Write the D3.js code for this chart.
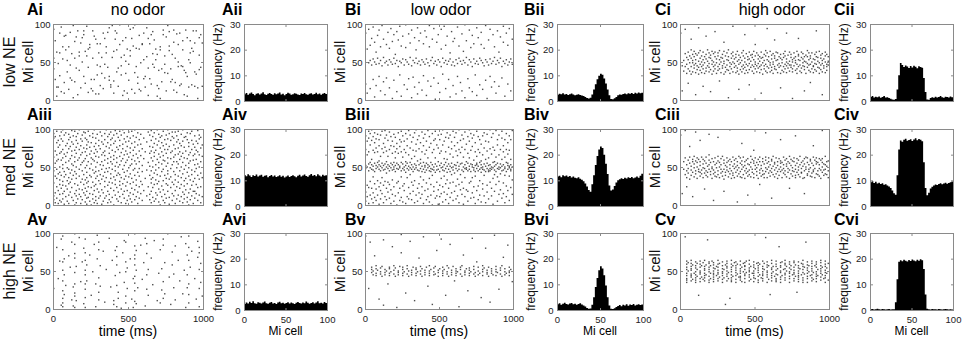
<!DOCTYPE html>
<html lang="en">
<head>
<meta charset="UTF-8">
<title>Mi cell rasters</title>
<style>
  body { margin: 0; background: #fff; }
  svg { display: block; font-family: "Liberation Sans", Arial, sans-serif; }
</style>
</head>
<body>
<script src="https://cdnjs.cloudflare.com/ajax/libs/d3/7.8.2/d3.min.js"></script>
<script>

// rasters: 100 bins of 10 ms, each bin lists the Mi cells (2 digits each) that spiked, "-" = none
const rasterAi = [
  "934155 2778 056317 4817 883262 1196 5470 230984 6685 3752",
  "7014 894629 2661 0398 552477 4283 9107 633958 1675 8250",
  "318691 6422 9758 104367 7369 2715 559112 8427 0880 463374",
  "6208 197444 3556 8815 294781 7062 4389 953126 1720 5698",
  "256409 8091 663788 4218 9973 334556 7806 1259 518235 0967",
  "4726 935865 1481 7195 360999 6844 2230 856714 4912 7374",
  "885328 3117 5795 064281 7428 2186 906147 4379 6753 190560",
  "1539 667002 4124 9286 584736 8312 3598 716590 2441 6027",
  "769213 2355 8710 507344 1988 4521 664478 3907 9236 058231",
  "5317 784962 2068 6491 377518 9134 1602 825940 4386 7518"
].join(" ");

const rasterAiii = [
  "12078845632994 557103389016 8224476609973558 411976026085 336891145027790643 87225904703996 15623184480873992653 670144923718 78255611954064 054981326921",
  "933674135886280247 611789427730 105498236583467134 8006523991 2872156344970057 35851968035076901241 9426590881 47147338629921 66028753301178 2045920769348456",
  "751640965827 046133884913702295 5279093665188643297401 973157248310 39670591487615 82235400713762 14468930600894 5825774299196803 88351164508127734406 219356380270",
  "63094585173278 407428965312 0157832066479134 691638800552 944324715909863165 1277489936 5503822661189044 30680793497514 862257410496633579 104772298854",
  "65370081196092 2751841345987033 76083962942356 428917730550 973164118540267853 035892366921 80144774289961 3466098752184395 712556028338 1990456706773059",
  "841263379649 5228750841881669 97356022810454 144672913065 5883203999077648 266711548933 027943621795 71388624570948 9315653180 4406742752",
  "881961 3570 128346 965624 07683992511477 622985450371349818 50107636905823 81426405279569 16533387720846 992860137940",
  "6704498421569331 387517630089 54259144701182 0665329747782059 863914580373 28925168358009 731845996226874155 0134771094 614885236937 15905371300696",
  "44792763128857 96024074196633 578324490891 3067138654387597 812260054570 11509336782764 68411799568403 2576470862328914 9035715220 43048661289510",
  "7716553882004966 339421690758 85461273409726 590280316518 1867449109537635 722760841548 06399854812370 508713663492 247542035789 64113679"
].join(" ");

const rasterAv = [
  "27 - 81 40 63 0592 082437516278960314 451966 31 -",
  "70 55 1288 0429 173348677385219902 5611 - 94 36 62",
  "0780 155126743392640245 5837 - 71 18 49 85 3303 6697",
  "2241788812 5730 - 76 09 52 - 93 29 64",
  "0611 4477 3158826903 2214 48 01 74 3590 0862174988 5427",
  "- 66 13 4002 247143589910346683 517707 28 - 84 39",
  "61 0493 73264586 1852 - 67 32 90 - 11",
  "47 7808 2553 36849214 6120 - 99 42 06 5875",
  "2846 8312 - 64 37 95 20 51 0286 452871",
  "649633088119 55 76 - 40 13 6889 2752748103 3560 17"
].join(" ");

const rasterBi = [
  "8821 6709 9349 157252 8146 275496 045076 634719 8555 314892",
  "125270 9845 245680 0749 735129 8946 165368 9450 024777 265586",
  "6048 115290 7944 335197 054971 8454 2046 695399 1450 874728",
  "7556 034592 3052 824917 6655 954808 235178 8846 1353 745032",
  "9147 065483 2549 704598 1852 8056 294894 0151 7646 865322",
  "1050 674493 3455 9749 155272 8447 2751 625404 9046 195077",
  "8145 0853 964831 7155 2351 874712 6452 034999 7856 2846",
  "925316 6950 114485 7454 3348 955106 8247 2055 735289 1449",
  "6845 985326 0250 7946 315493 1748 8651 705624 0947 9152",
  "634918 8355 2944 765197 0548 8853 214672 9450 1254 8047"
].join(" ");

const rasterBiii = [
  "914817527305 2684501166 70450297542388 134979563194 60085385224799 37517216904603 82552844106995 064875215287 935032137056 58244786017853",
  "19456492512908 744936559715 035281462669 88471154763198 42572292075071 644817855330 965109457327 552049780290 334668145384 77502493560547",
  "124462528970 488129550074 955316476831 064986512277 70453756971083 255463489104 845019734628 574302945269 114878553687 665123984608",
  "925640154975 304783530761 725018894426 035495476432 498013527199 2246588605 915328744516 604809825537 145196447024 784733560288",
  "435267199350 075584462972 984921536211 354576519004 564813814427 695300479439 185085467324 875409436297 4651307912 754757209201",
  "265268448611 934915557135 044679502499 615338458417 894807567028 335195436014 764722540288 514467109229 165583497440 975030466306",
  "4253781889 084871522595 654512568234 275199477303 8554402069 554614923076 015063448722 735336489611 4749208057 185590456805",
  "625129478499 944409547231 365077165388 104659499224 825202447038 534897551964 254573510790 695632478613 044980534358 914721506628",
  "395475461295 6051034484 174893557126 835244460862 484599533074 125067478922 764935560194 574618517240 9853274463 054886553779",
  "664714509231 4154734920 885109456097 294678531570 635003488639 944425567311 195255478267 724938510691 475386452360 33509814"
].join(" ");

const rasterBv = [
  "96 - 27 88 485255 4550 70 47535744 51 13",
  "464954 5643 9105 485245 50 33 44475553 49 82 514657",
  "4354 02 485045 56 7498 52474455 49 21 465357 5043",
  "89 455148 55 11 47544452 49 67 505646 4353 95",
  "484551 55 30 44505747 52 06 495445 4656 77 514348",
  "53 92 47555044 52 18 464957 5443 85 485145 56",
  "37 44534750 49 03 554652 4357 71 485045 53 24",
  "47544451 49 93 465652 4348 62 504555 47 15 44525749",
  "54 80 484651 5543 09 504753 45 97 56444952 48",
  "26 465451 4357 68 494553 47 84 50554448 52 36"
].join(" ");

const rasterCi = [
  "88 4512 5238 614493 473556 63415322 385849 5544663480 49603752 42576446",
  "5336486107 455940 6251344395 39554765 58443650 4663534118 354957 6042543884 514566 4356374862",
  "55405911 47643452 38506144 5746416390 493554 62445839 4153476525 563650 45604255 3451644876",
  "584337 46625340 5239576603 444935 61554147 3758506397 484354 56364560 42645138 5347593414",
  "405649 62443752 46584165 5535504386 396147 57455336 4863405420 435159 60384656 35534464",
  "5041584773 456237 54484259 36575144 6346405509 493456 41605245 58384765 4453623694 514257",
  "37496446 59435439 47613550 5544584179 405263 62463653 485743 3555604516 533949 44615637",
  "58474164 5036544588 425948 63513846 46564360 3753504102 554562 49395752 41644735 5844536081",
  "523846 36564263 61495445 4457405112 503559 57434865 39625346 4755375823 624150 45544436",
  "53604840 3847576391 564351 42643549 59465540 4837615207 544542 36585063 60443947 515746"
].join(" ");

const rasterCiii = [
  "92 15 4757 406298 53364524 594842 34556377 465139 60435711 49375464",
  "41584596 56355062 446047 5238574385 634641 36544960 48584221 55396345 435137 5947536693",
  "405644 61355048 46574106 53436238 374955 5845406489 503656 42614753 644438 4755593418",
  "395243 56466250 443758 6053414899 355745 51426339 48593654 435061 5738465204 416449",
  "62445537 3653475881 504063 45573552 594842 3854614413 534640 64375650 436047 5541583672",
  "475262 39564449 603553 4663425727 523848 57456140 415436 6349445995 365547 50426257",
  "453853 5860434809 405164 54463756 496241 35575244 614739 4455585086 563646 42635348",
  "594045 37546151 484357 6435465522 526041 45493858 574462 3952473691 615543 46405950",
  "536437 43564842 583551 3661455415 504763 62415639 475344 38586049 554237 4463524678",
  "593648 41545762 564540 48386153 355946 6150435698 463954 53644741 405751 584536"
].join(" ");

const rasterCv = [
  "- - - 95 354044475255596338 5061 - 374246515660644453 3958 47",
  "3541495457624538 524360 18 3640465055596348 4257 6139 3744475356644151 4558 91 3843495260623555",
  "474057 63 364245505458613947 53 4456 4046515559643748 4260 - 3539444953576247 5241",
  "5806 3743465056606354 4048 14 364145525559644938 5743 61 3944485157623554 4659 42",
  "3843475053586341 5536 4960 3540465256614457 4863 - 3742454954596451 3956 47 3641445055586247",
  "5340 60 3843485157613554 4559 41 4046495356633744 5260 94 3542455055586248 3957",
  "19 3744475254606441 4956 43 3640465156596338 5345 82 3942485055613557 4462 52",
  "3841455358606447 5056 - 3543474954596240 5257 45 3740465155616348 4358 22 364244505457623947",
  "53 6045 3841485256596435 4655 88 3543475154586240 4957 44 3741455056606353 4839",
  "57 3640464955596243 5244 - 3842475357616450 4555 40 3544485156596341 4754 6038"
].join(" ");

// firing rate per Mi cell (Hz), one value per pair of cells (0-1, 2-3, ... 98-99)
const histAii = [2.6,3.1,2.4,2.9,3.3,2.7,2.2,2.8,3.0,2.5,2.9,3.4,2.6,2.3,2.8,3.1,2.7,2.4,3.0,2.6,2.9,3.3,2.5,2.8,2.2,2.7,3.2,2.9,2.4,2.6,3.0,2.8,2.5,2.3,2.9,2.7,3.1,2.6,2.4,2.8,3.0,2.5,2.7,3.2,2.6,2.9,2.4,2.8,3.1,2.7];
const histAiv = [12.1,11.6,12.4,11.9,11.3,12.0,11.7,12.3,11.5,11.9,12.2,11.4,11.8,12.0,11.2,11.7,12.1,11.5,11.9,11.3,11.6,12.0,11.4,11.8,11.1,11.5,11.9,11.3,11.7,12.0,11.6,11.2,11.8,12.2,11.5,11.9,12.3,11.7,11.4,12.0,12.5,11.8,12.1,11.6,12.4,11.9,11.5,12.2,11.8,12.0];
const histAvi = [2.3,2.9,2.5,3.2,2.7,3.4,2.6,2.4,3.0,2.8,2.5,2.9,3.3,2.6,2.4,2.8,3.1,2.5,2.7,2.3,2.9,3.2,2.6,2.8,2.4,2.7,3.0,2.5,2.9,2.6,2.3,2.8,3.1,2.7,2.5,2.9,2.6,3.3,2.8,2.4,2.7,3.0,2.5,2.9,3.4,2.6,2.8,2.5,3.1,2.7];
const histBii = [2.4,2.8,2.6,3.0,2.5,2.7,2.3,2.6,2.9,2.5,2.2,2.4,2.6,2.3,2.1,1.9,1.6,1.2,1.0,1.3,2.5,4.5,6.5,8.5,9.8,10.6,10.2,8.8,6.8,4.5,2.2,0.8,0.7,1.1,1.6,2.2,2.5,2.4,2.7,2.9,2.6,3.0,2.8,3.1,2.7,3.2,2.9,3.3,3.0,3.2];
const histBiv = [11.5,11.8,11.2,12.0,11.6,11.9,11.4,11.7,11.1,11.5,11.0,10.8,11.2,10.6,10.2,9.6,8.8,7.6,6.2,5.6,8.5,12.0,16.0,19.5,22.0,23.2,22.6,20.0,16.5,12.5,8.0,6.0,6.4,7.8,9.2,10.0,10.4,10.8,10.5,11.0,10.7,11.2,10.9,11.3,10.8,11.1,11.5,11.0,11.8,12.6];
const histBvi = [2.2,2.6,2.0,2.4,2.8,2.3,2.1,2.5,2.7,2.2,2.4,2.0,2.3,2.6,2.1,1.8,1.4,0.8,0.5,0.6,2.0,5.0,9.0,12.5,15.5,17.0,16.2,13.5,9.5,5.0,1.8,0.5,0.4,0.7,1.2,1.6,1.9,1.5,2.0,1.8,2.2,1.7,2.1,1.9,2.3,1.8,2.0,2.2,1.9,2.1];
const histCii = [1.6,1.9,1.4,1.7,1.5,1.8,1.3,1.6,1.9,1.4,1.5,1.2,0.9,0.6,0.5,0.8,4.5,10.0,14.8,14.0,13.2,13.8,13.4,12.9,13.6,13.1,13.7,13.3,12.8,13.5,13.2,13.0,9.0,3.5,0.6,0.5,1.2,1.5,1.3,1.7,1.4,1.6,1.9,1.5,1.3,1.7,1.6,1.4,1.8,1.5];
const histCiv = [9.3,9.6,9.0,9.4,8.8,9.1,8.6,8.9,8.3,8.5,8.0,7.6,7.0,6.0,5.0,4.4,12.0,22.0,25.5,25.0,25.8,26.2,25.4,25.7,26.0,25.3,25.9,26.4,25.6,26.1,25.8,25.2,17.0,7.0,4.2,5.2,6.8,7.5,8.0,8.4,8.2,8.6,8.9,8.5,8.8,9.1,8.7,9.0,9.3,9.5];
const histCvi = [0.3,0.4,0.2,0.3,0.5,0.3,0.2,0.4,0.3,0.2,0.3,0.4,0.2,0.3,0.3,3.0,12.0,18.8,19.4,19.0,19.6,19.2,18.9,19.5,19.1,19.7,19.3,19.0,19.6,19.2,19.8,19.4,16.0,6.0,0.5,0.3,0.2,0.4,0.3,0.3,0.2,0.4,0.3,0.2,0.3,0.4,0.3,0.2,0.3,0.2];

const rowNames = ["low NE", "med NE", "high NE"];
const colTitles = ["no odor", "low odor", "high odor"];
const panelNames = [
  ["Ai", "Aii", "Bi", "Bii", "Ci", "Cii"],
  ["Aiii", "Aiv", "Biii", "Biv", "Ciii", "Civ"],
  ["Av", "Avi", "Bv", "Bvi", "Cv", "Cvi"]
];
const rasters = [
  [rasterAi, rasterBi, rasterCi],
  [rasterAiii, rasterBiii, rasterCiii],
  [rasterAv, rasterBv, rasterCv]
];
const hists = [
  [histAii, histBii, histCii],
  [histAiv, histBiv, histCiv],
  [histAvi, histBvi, histCvi]
];
const timeTicks = [0, 500, 1000];
const cellTicks = [0, 50, 100];
const rateTicks = [0, 10, 20, 30];

// layout
const W = 964, H = 342;
const cols = [
  {raster: [53, 203], hist: [244, 327], titleX: 138, lab: [27, 222]},
  {raster: [365, 513], hist: [557, 643], titleX: 441, lab: [345, 524]},
  {raster: [680, 829], hist: [870, 953], titleX: 772, lab: [655, 834]}
];
const rowTop = [24, 129, 233];
const labBase = [15, 120, 225];
const rasterH = 76, histH = 77;
const font = "'Liberation Sans', Arial, sans-serif";
const frameCol = "#8a8a8a";

const svg = d3.select("body").append("svg")
  .attr("width", W)
  .attr("height", H);

function parseRaster(str) {
  const pts = [];
  str.trim().split(/\s+/).forEach((tok, i) => {
    if (tok === "-") return;
    for (let k = 0; k < tok.length; k += 2) {
      pts.push({t: i * 10 + 5, c: +tok.slice(k, k + 2)});
    }
  });
  return pts;
}

function boxAxes(g, x, y, xTicks, yTicks, showX, padY) {
  const [x0, x1] = x.range();
  const [yb, yt] = y.range();
  g.append("rect")
    .attr("x", x0 + 0.5).attr("y", yt + 0.5)
    .attr("width", x1 - x0).attr("height", yb - yt)
    .attr("fill", "none").attr("stroke", frameCol);
  g.append("g").attr("transform", `translate(${x0 + 0.5},0)`)
    .call(d3.axisLeft(y).tickValues(yTicks).tickSize(-2.5).tickPadding(padY));
  g.append("g").attr("transform", `translate(${x1 + 0.5},0)`)
    .call(d3.axisRight(y).tickValues(yTicks).tickSize(-2.5).tickFormat(""));
  g.append("g").attr("transform", `translate(0,${yt + 0.5})`)
    .call(d3.axisTop(x).tickValues(xTicks).tickSize(-2.5).tickFormat(""));
  g.append("g").attr("transform", `translate(0,${yb + 0.5})`)
    .call(d3.axisBottom(x).tickValues(xTicks).tickSize(-2.5).tickPadding(6)
      .tickFormat(showX ? d3.format("d") : ""));
  g.selectAll(".domain").remove();
  g.selectAll(".tick line").attr("stroke", frameCol);
  g.selectAll(".tick text")
    .attr("font-family", font).attr("font-size", 9.5).attr("fill", "#222");
}

function vText(x, yc, txt, size) {
  svg.append("text")
    .attr("transform", `translate(${x},${yc}) rotate(-90)`)
    .attr("text-anchor", "middle")
    .attr("font-family", font).attr("font-size", size).attr("fill", "#111")
    .text(txt);
}

rowTop.forEach((top, r) => {
  const last = r === 2;
  vText(15, top + rasterH / 2, rowNames[r], 16);

  cols.forEach((col, c) => {
    // raster
    const x = d3.scaleLinear().domain([0, 1000]).range(col.raster);
    const y = d3.scaleLinear().domain([0, 100]).range([top + rasterH, top]);
    const g = svg.append("g");
    g.selectAll("rect.spike")
      .data(parseRaster(rasters[r][c]))
      .join("rect")
        .attr("class", "spike")
        .attr("x", d => x(d.t) - 0.7)
        .attr("y", d => y(d.c) - 0.7)
        .attr("width", 1.4)
        .attr("height", 1.4)
        .attr("fill", "#222")
        .attr("opacity", 0.8);
    boxAxes(g, x, y, timeTicks, cellTicks, last, 3);
    vText(col.raster[0] - 20, top + rasterH / 2, "Mi cell", 15);

    // histogram
    const hx = d3.scaleLinear().domain([0, 100]).range(col.hist);
    const hy = d3.scaleLinear().domain([0, 30]).range([top + histH, top]);
    const vals = hists[r][c].map((v, i) => ({cell: i * 2, v}));
    vals.push({cell: 100, v: vals[vals.length - 1].v});
    const hg = svg.append("g");
    hg.append("path")
      .datum(vals)
      .attr("fill", "#000")
      .attr("d", d3.area()
        .curve(d3.curveStepAfter)
        .x(d => hx(d.cell))
        .y0(hy(0))
        .y1(d => hy(d.v)));
    boxAxes(hg, hx, hy, cellTicks, rateTicks, last, 4);
    vText(col.hist[0] - 22, top + histH / 2, "frequency (Hz)", 12);

    // panel letters
    svg.append("text")
      .attr("x", col.lab[0]).attr("y", labBase[r])
      .attr("font-family", font).attr("font-size", 16).attr("font-weight", "bold")
      .text(panelNames[r][c * 2]);
    svg.append("text")
      .attr("x", col.lab[1]).attr("y", labBase[r])
      .attr("font-family", font).attr("font-size", 16).attr("font-weight", "bold")
      .text(panelNames[r][c * 2 + 1]);

    if (last) {
      svg.append("text")
        .attr("x", (col.raster[0] + col.raster[1]) / 2).attr("y", 336)
        .attr("text-anchor", "middle")
        .attr("font-family", font).attr("font-size", 14)
        .text("time (ms)");
      svg.append("text")
        .attr("x", (col.hist[0] + col.hist[1]) / 2).attr("y", 335)
        .attr("text-anchor", "middle")
        .attr("font-family", font).attr("font-size", 12)
        .text("Mi cell");
    }
    if (r === 0) {
      svg.append("text")
        .attr("x", col.titleX).attr("y", 15)
        .attr("text-anchor", "middle")
        .attr("font-family", font).attr("font-size", 16)
        .text(colTitles[c]);
    }
  });
});

</script>
</body>
</html>
